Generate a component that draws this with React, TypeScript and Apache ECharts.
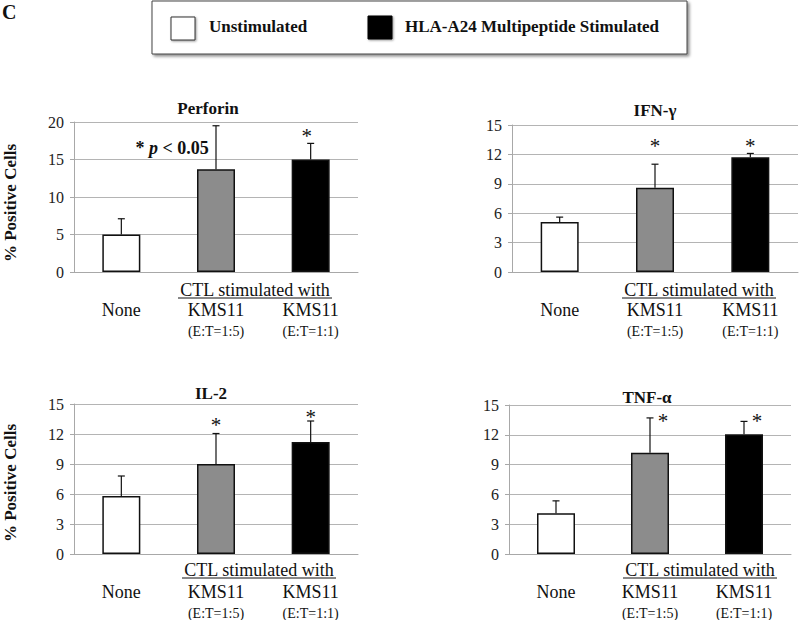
import React, { useEffect, useRef } from "react";
import * as echarts from "echarts";

const categories = ["None", "KMS11|(E:T=1:5)", "KMS11|(E:T=1:1)"];
const panelTitles = ["Perforin", "IFN-γ", "IL-2", "TNF-α"];
const yMaxes = [20, 15, 15, 15];
const yIntervals = [5, 3, 3, 3];

const perforinMean = [5.0, 13.7, 15.0];
const perforinSD = [2.1, 5.8, 2.15];
const ifnMean = [5.1, 8.6, 11.7];
const ifnSD = [0.5, 2.4, 0.4];
const il2Mean = [5.8, 9.0, 11.2];
const il2SD = [2.0, 3.05, 2.1];
const tnfMean = [4.1, 10.2, 12.05];
const tnfSD = [1.25, 3.5, 1.3];

const perforinStars = [null, null, 18.5];
const ifnStars = [null, 13.2, 13.2];
const il2Stars = [null, 13.25, 14.0];
const tnfStars = [null, 13.7, 13.7];

const legendLabels = ["Unstimulated", "HLA-A24 Multipeptide Stimulated"];
const yAxisTitle = "% Positive Cells";
const groupLabel = "CTL stimulated with";
const pNote = ["* ", "p", " < 0.05"];

const FONT = "Liberation Serif";
const barColors = ["#ffffff", "#8c8c8c", "#000000"];

const grids = [
  { left: 74, top: 122, width: 284, height: 150 },
  { left: 512, top: 125, width: 286, height: 147 },
  { left: 74, top: 404, width: 284, height: 152 },
  { left: 509, top: 405, width: 282, height: 151 },
];
const titlePos = [
  [208, 108],
  [655, 110],
  [211, 393],
  [647, 397],
];
const groupLabelPos = [
  [255, 290],
  [699, 290],
  [259, 570],
  [700, 570],
];
const starOffsetX = [-4, 0, 0, 13];

function txt(text: string, x: number, y: number, size: number, weight: string, extra: any = {}) {
  return {
    type: "text",
    x,
    y,
    ...extra,
    style: {
      text,
      fontSize: size,
      fontWeight: weight,
      fontFamily: FONT,
      fill: "#111",
      align: extra.align || "center",
      textAlign: extra.align || "center",
      verticalAlign: "middle",
      textVerticalAlign: "middle",
    },
  };
}

export default function App() {
  const ref = useRef<HTMLDivElement>(null);
  useEffect(() => {
    if (!ref.current) return;
    const chart = echarts.init(ref.current, null, { renderer: "svg" });
    const means = [perforinMean, ifnMean, il2Mean, tnfMean];
    const sds = [perforinSD, ifnSD, il2SD, tnfSD];
    const stars = [perforinStars, ifnStars, il2Stars, tnfStars];

    const xAxis = grids.map((_, i) => ({
      type: "category",
      gridIndex: i,
      data: categories,
      axisLine: { show: true, lineStyle: { color: "#a8a8a8", width: 1 } },
      axisTick: { show: false },
      axisLabel: {
        interval: 0,
        margin: 28,
        color: "#111",
        fontFamily: FONT,
        formatter: (v: string) => {
          const parts = v.split("|");
          return parts.length > 1 ? `{m|${parts[0]}}\n{s|${parts[1]}}` : `{m|${parts[0]}}`;
        },
        rich: {
          m: { fontSize: 18, fontFamily: FONT, color: "#111", lineHeight: 20 },
          s: { fontSize: 14, fontFamily: FONT, color: "#111", lineHeight: 22 },
        },
      },
    }));
    const yAxis = grids.map((_, i) => ({
      type: "value",
      gridIndex: i,
      min: 0,
      max: yMaxes[i],
      interval: yIntervals[i],
      axisLine: { show: true, lineStyle: { color: "#a8a8a8", width: 1 } },
      axisTick: { show: true, length: 4, lineStyle: { color: "#a8a8a8" } },
      splitLine: { show: true, lineStyle: { color: "#b4b4b4", width: 1 } },
      axisLabel: { fontFamily: FONT, fontSize: 16, color: "#222", margin: 10 },
    }));

    const series: any[] = [];
    grids.forEach((_, i) => {
      series.push({
        type: "bar",
        xAxisIndex: i,
        yAxisIndex: i,
        barWidth: 38,
        data: means[i].map((v, j) => ({ value: v, itemStyle: { color: barColors[j] } })),
        itemStyle: { borderColor: "#111", borderWidth: 1.5 },
        z: 2,
      });
      series.push({
        type: "custom",
        xAxisIndex: i,
        yAxisIndex: i,
        z: 3,
        encode: { x: 0, y: [1, 2] },
        data: means[i].map((m, j) => [j, m, m + sds[i][j]]),
        renderItem: (params: any, api: any) => {
          const x = api.value(0);
          const lo = api.coord([x, api.value(1)]);
          const hi = api.coord([x, api.value(2)]);
          const st = { stroke: "#111", lineWidth: 1.2 };
          return {
            type: "group",
            children: [
              { type: "line", shape: { x1: lo[0], y1: lo[1], x2: hi[0], y2: hi[1] }, style: st },
              { type: "line", shape: { x1: hi[0] - 3.5, y1: hi[1], x2: hi[0] + 3.5, y2: hi[1] }, style: st },
            ],
          };
        },
      });
      series.push({
        type: "custom",
        xAxisIndex: i,
        yAxisIndex: i,
        z: 4,
        encode: { x: 0, y: 1 },
        data: stars[i]
          .map((s, j) => (s == null ? null : [j, s]))
          .filter((d) => d != null),
        renderItem: (params: any, api: any) => {
          const p = api.coord([api.value(0), api.value(1)]);
          return txt("*", p[0] + starOffsetX[i], p[1] + 3, 21, "normal");
        },
      });
    });

    const graphic: any[] = [];
    graphic.push(txt("C", 2, 12, 20, "bold", { align: "left" }));
    graphic.push({
      type: "rect",
      shape: { x: 152, y: 1, width: 535, height: 53 },
      style: {
        fill: "#fff",
        stroke: "#444",
        lineWidth: 1,
        shadowBlur: 3,
        shadowColor: "rgba(0,0,0,0.45)",
        shadowOffsetX: 2,
        shadowOffsetY: 2,
      },
    });
    graphic.push({
      type: "rect",
      shape: { x: 171, y: 17, width: 24, height: 23 },
      style: { fill: "#fff", stroke: "#333", lineWidth: 1, shadowBlur: 2, shadowColor: "rgba(0,0,0,0.4)", shadowOffsetX: 1, shadowOffsetY: 1 },
    });
    graphic.push(txt(legendLabels[0], 209, 26, 17, "bold", { align: "left" }));
    graphic.push({
      type: "rect",
      shape: { x: 368, y: 16, width: 24, height: 23 },
      style: { fill: "#000", stroke: "#000", lineWidth: 1, shadowBlur: 2, shadowColor: "rgba(0,0,0,0.4)", shadowOffsetX: 1, shadowOffsetY: 1 },
    });
    graphic.push(txt(legendLabels[1], 405, 26, 17, "bold", { align: "left" }));
    [203, 483].forEach((cy) => {
      graphic.push(txt(yAxisTitle, 10, cy, 17, "bold", { rotation: Math.PI / 2 }));
    });
    panelTitles.forEach((t, i) => {
      graphic.push(txt(t, titlePos[i][0], titlePos[i][1], 17, "bold"));
    });
    groupLabelPos.forEach(([cx, cy]) => {
      graphic.push(txt(groupLabel, cx, cy, 18, "normal"));
      graphic.push({
        type: "line",
        shape: { x1: cx - 77, y1: cy + 8, x2: cx + 77, y2: cy + 8 },
        style: { stroke: "#111", lineWidth: 1 },
      });
    });
    graphic.push({
      type: "text",
      x: 172,
      y: 148,
      style: {
        text: `{a|${pNote[0]}}{b|${pNote[1]}}{a|${pNote[2]}}`,
        align: "center",
        textAlign: "center",
        verticalAlign: "middle",
        textVerticalAlign: "middle",
        rich: {
          a: { fontSize: 18, fontWeight: "bold", fontFamily: FONT, fill: "#111", color: "#111" },
          b: { fontSize: 18, fontWeight: "bold", fontStyle: "italic", fontFamily: FONT, fill: "#111", color: "#111" },
        },
      },
    });

    chart.setOption({
      animation: false,
      backgroundColor: "#ffffff",
      grid: grids.map((g) => ({ ...g, containLabel: false })),
      xAxis,
      yAxis,
      series,
      graphic,
    });
    return () => chart.dispose();
  }, []);
  return (
    <div
      ref={ref}
      style={{ position: "fixed", left: 0, top: 0, width: 800, height: 620, background: "#fff" }}
    />
  );
}
